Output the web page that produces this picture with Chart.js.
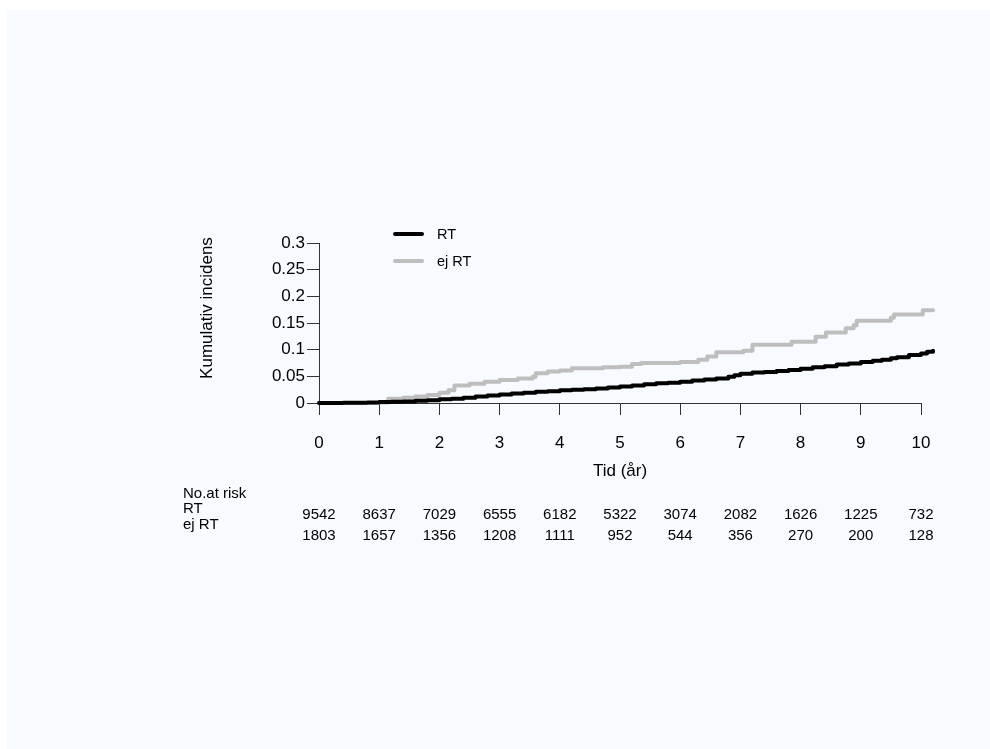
<!DOCTYPE html>
<html>
<head>
<meta charset="utf-8">
<script src="https://cdn.jsdelivr.net/npm/chart.js@4.4.1/dist/chart.umd.min.js"></script>
<style>
html,body{margin:0;padding:0;background:#ffffff;}
#wrap{position:relative;width:990px;height:749px;overflow:hidden;background:#ffffff;}
#panel{position:absolute;left:7px;top:10px;right:0;bottom:0;background:#f7fafe;}
#c{position:absolute;left:0;top:0;}
#overlay{position:absolute;left:0;top:0;width:990px;height:749px;pointer-events:none;}
.t{position:absolute;font-family:'Liberation Sans',Arial,Helvetica,sans-serif;color:#000;white-space:nowrap;line-height:1;}
.sw{position:absolute;height:4px;border-radius:2px;}
</style>
</head>
<body>
<div id="wrap">
  <div id="panel"></div>
  <canvas id="c" width="990" height="749"></canvas>
  <div id="overlay"></div>
</div>
<script>
// ---------- data ----------
const timeTicks = [0, 1, 2, 3, 4, 5, 6, 7, 8, 9, 10];
const incidenceTicks = [0, 0.05, 0.1, 0.15, 0.2, 0.25, 0.3];
const incidenceTickLabels = ['0', '0.05', '0.1', '0.15', '0.2', '0.25', '0.3'];
const seriesNames = ['RT', 'ej RT'];
const xTitle = 'Tid (år)';
const yTitle = 'Kumulativ incidens';
const riskTitle = 'No.at risk';

// RT (black) cumulative incidence, step function
const rtTime = [0, 0.4, 0.8, 1.0, 1.2, 1.4, 1.6, 1.8, 2.0, 2.2, 2.4, 2.6, 2.8, 3.0, 3.2, 3.4, 3.6, 3.8, 4.0, 4.2, 4.4, 4.6, 4.8, 5.0, 5.2, 5.4, 5.6, 5.8, 6.0, 6.2, 6.4, 6.6, 6.8, 6.9, 7.0, 7.2, 7.4, 7.6, 7.8, 8.0, 8.2, 8.4, 8.6, 8.8, 9.0, 9.2, 9.35, 9.5, 9.6, 9.8, 10.0, 10.1, 10.2];
const rtCum  = [0, 0.0003, 0.001, 0.002, 0.0025, 0.003, 0.004, 0.005, 0.007, 0.008, 0.010, 0.012, 0.014, 0.016, 0.018, 0.019, 0.021, 0.022, 0.024, 0.025, 0.026, 0.027, 0.029, 0.031, 0.033, 0.035, 0.037, 0.038, 0.040, 0.042, 0.044, 0.046, 0.049, 0.052, 0.055, 0.057, 0.058, 0.060, 0.062, 0.064, 0.067, 0.069, 0.072, 0.074, 0.077, 0.079, 0.081, 0.084, 0.086, 0.090, 0.093, 0.096, 0.098];

// ej RT (grey) cumulative incidence, step function
const ejTime = [0, 1.0, 1.15, 1.4, 1.6, 1.8, 2.0, 2.15, 2.25, 2.5, 2.75, 3.0, 3.3, 3.55, 3.6, 3.8, 4.0, 4.2, 4.72, 5.0, 5.2, 5.35, 6.0, 6.3, 6.45, 6.6, 7.05, 7.2, 7.85, 8.25, 8.42, 8.75, 8.88, 8.93, 9.5, 9.55, 10.03, 10.2];
const ejCum  = [0, 0.001, 0.008, 0.010, 0.012, 0.015, 0.019, 0.024, 0.033, 0.036, 0.040, 0.043, 0.046, 0.049, 0.056, 0.059, 0.061, 0.065, 0.067, 0.068, 0.073, 0.075, 0.077, 0.081, 0.087, 0.095, 0.098, 0.109, 0.115, 0.124, 0.132, 0.140, 0.146, 0.154, 0.160, 0.166, 0.174, 0.174];

// numbers at risk
const riskRT = [9542, 8637, 7029, 6555, 6182, 5322, 3074, 2082, 1626, 1225, 732];
const riskEj = [1803, 1657, 1356, 1208, 1111, 952, 544, 356, 270, 200, 128];

const seriesColors = ['#000000', '#bebebe'];

// ---------- chart ----------
const FONT = "'Liberation Sans', Arial, Helvetica, sans-serif";
const toPts = (xs, ys) => xs.map((t, i) => ({x: t, y: ys[i]}));

const chart = new Chart(document.getElementById('c'), {
  type: 'line',
  data: {
    datasets: [
      {label: seriesNames[0], data: toPts(rtTime, rtCum), borderColor: seriesColors[0], backgroundColor: seriesColors[0],
       borderWidth: 4, stepped: true, pointRadius: 0, fill: false, clip: false, borderJoinStyle: 'round', borderCapStyle: 'round'},
      {label: seriesNames[1], data: toPts(ejTime, ejCum), borderColor: seriesColors[1], backgroundColor: seriesColors[1],
       borderWidth: 4, stepped: true, pointRadius: 0, fill: false, clip: false, borderJoinStyle: 'round', borderCapStyle: 'round'}
    ]
  },
  options: {
    responsive: false,
    devicePixelRatio: 1,
    animation: false,
    events: [],
    layout: {padding: {left: 0, top: 243, right: 69, bottom: 267}},
    plugins: {legend: {display: false}, tooltip: {enabled: false}},
    scales: {
      x: {
        type: 'linear',
        min: 0,
        afterDataLimits: s => { s.max = timeTicks[timeTicks.length - 1]; },
        afterBuildTicks: s => { s.ticks = timeTicks.map(v => ({value: v})); },
        afterFit: s => { s.height = 79; },
        border: {display: true, color: '#333333', width: 1},
        grid: {drawOnChartArea: false, drawTicks: true, tickLength: 12, tickColor: '#333333', tickWidth: 1},
        ticks: {color: '#000', font: {family: FONT, size: 17}, padding: 18, maxRotation: 0,
                callback: (v, i) => String(timeTicks[i])},
        title: {display: true, text: xTitle, color: '#000', font: {family: FONT, size: 17}, padding: {top: 0, bottom: 0}}
      },
      y: {
        min: 0,
        max: 0.3,
        afterBuildTicks: s => { s.ticks = incidenceTicks.map(v => ({value: v})); },
        afterFit: s => { s.width = 319; },
        border: {display: true, color: '#333333', width: 1},
        grid: {drawOnChartArea: false, drawTicks: true, tickLength: 12, tickColor: '#333333', tickWidth: 1},
        ticks: {color: '#000', font: {family: FONT, size: 17}, padding: 2,
                callback: (v, i) => incidenceTickLabels[i]}
      }
    }
  }
});

// ---------- overlay texts (legend, y title, risk table) ----------
const overlay = document.getElementById('overlay');
function txt(text, x, yc, size, align, extra) {
  const d = document.createElement('div');
  d.className = 't';
  d.textContent = text;
  d.style.fontSize = size + 'px';
  d.style.left = x + 'px';
  d.style.top = (yc - 0.49 * size) + 'px';
  let tr = '';
  if (align === 'center') tr = 'translateX(-50%)';
  else if (align === 'right') tr = 'translateX(-100%)';
  if (extra) tr += ' ' + extra;
  d.style.transform = tr;
  overlay.appendChild(d);
  return d;
}

const xs = chart.scales.x;

// y-axis title (rotated)
const yt = document.createElement('div');
yt.className = 't';
yt.textContent = yTitle;
yt.style.fontSize = '17px';
yt.style.left = '206px';
yt.style.top = '307.5px';
yt.style.transform = 'translate(-50%,-50%) rotate(-90deg)';
overlay.appendChild(yt);

// legend
const legendRows = [234, 261];
seriesNames.forEach((name, i) => {
  const sw = document.createElement('div');
  sw.className = 'sw';
  sw.style.left = '393px';
  sw.style.width = '31px';
  sw.style.top = (legendRows[i] - 2) + 'px';
  sw.style.background = seriesColors[i];
  overlay.appendChild(sw);
  txt(name, 437, legendRows[i], 14.5, 'left');
});

// risk table
txt(riskTitle, 183, 492, 15, 'left');
txt(seriesNames[0], 183, 507.5, 15, 'left');
txt(seriesNames[1], 183, 523, 15, 'left');
timeTicks.forEach((t, i) => {
  const px = xs.getPixelForValue(t);
  txt(String(riskRT[i]), px, 513, 15, 'center');
  txt(String(riskEj[i]), px, 534, 15, 'center');
});
</script>
</body>
</html>
